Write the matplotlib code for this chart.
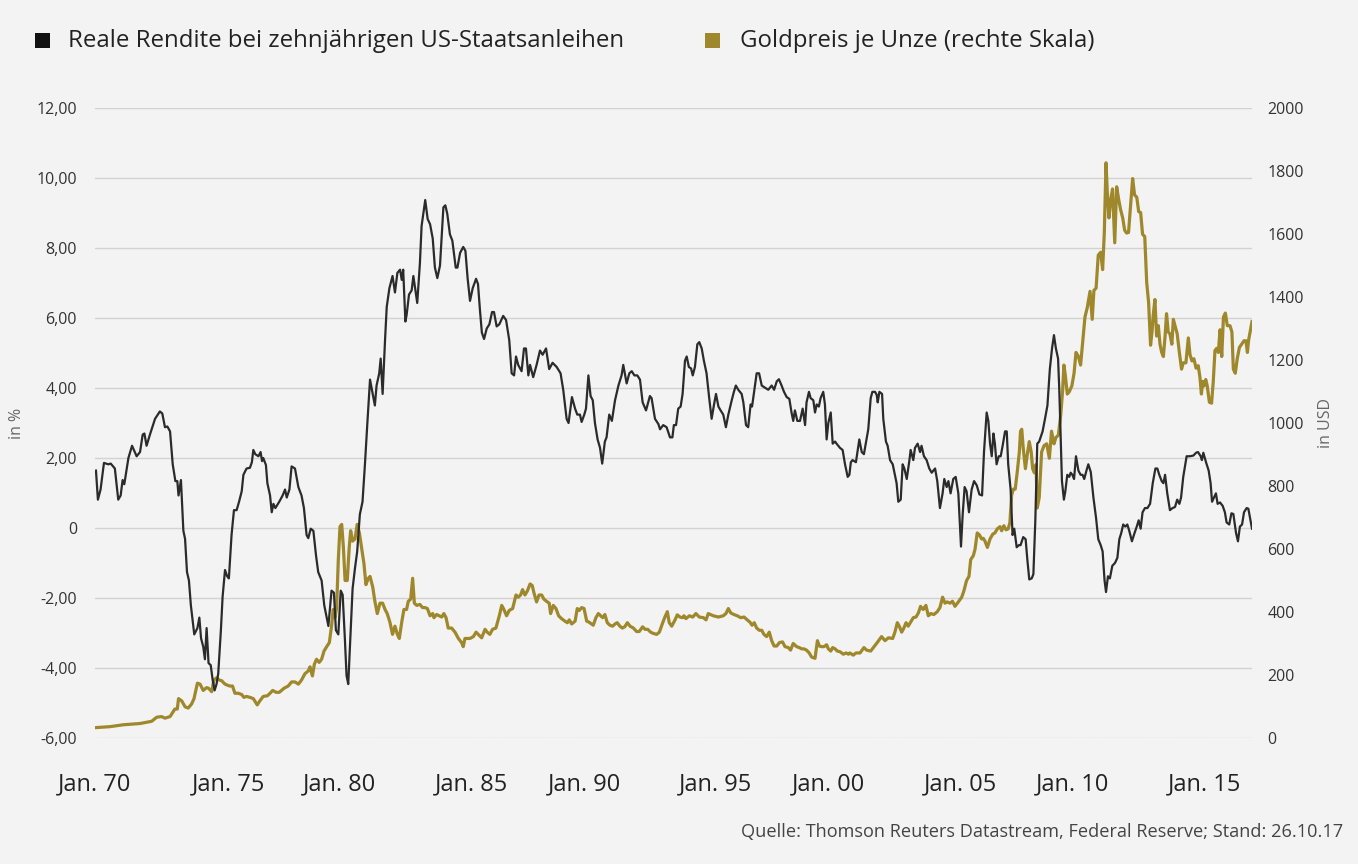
import matplotlib
matplotlib.use("Agg")
import matplotlib.pyplot as plt
from matplotlib.patches import Rectangle

# ---------------- data ----------------
legend_labels = ["Reale Rendite bei zehnjährigen US-Staatsanleihen",
                 "Goldpreis je Unze (rechte Skala)"]
source_text = "Quelle: Thomson Reuters Datastream, Federal Reserve; Stand: 26.10.17"

x_tick_labels = ["Jan. 70", "Jan. 75", "Jan. 80", "Jan. 85", "Jan. 90",
                 "Jan. 95", "Jan. 00", "Jan. 05", "Jan. 10", "Jan. 15"]
left_ticks = [-6, -4, -2, 0, 2, 4, 6, 8, 10, 12]
left_tick_labels = ["-6,00", "-4,00", "-2,00", "0", "2,00", "4,00", "6,00", "8,00", "10,00", "12,00"]
right_ticks = [0, 200, 400, 600, 800, 1000, 1200, 1400, 1600, 1800, 2000]
right_tick_labels = [str(v) for v in right_ticks]

# real yield of 10y US treasuries (%), (decimal year, value)
real_yield = [
    (1970.00, 1.64), (1970.08, 0.81), (1970.19, 1.10), (1970.33, 1.86), (1970.51, 1.82),
    (1970.61, 1.84), (1970.78, 1.70), (1970.92, 0.81), (1971.02, 0.93), (1971.10, 1.37),
    (1971.17, 1.25), (1971.34, 2.00), (1971.49, 2.35), (1971.68, 2.05), (1971.82, 2.17),
    (1971.93, 2.67), (1972.00, 2.70), (1972.09, 2.35), (1972.23, 2.67), (1972.44, 3.12),
    (1972.64, 3.33), (1972.74, 3.27), (1972.85, 2.88), (1972.95, 2.90), (1973.06, 2.76),
    (1973.17, 1.82), (1973.28, 1.34), (1973.36, 1.34), (1973.41, 0.93), (1973.51, 1.37),
    (1973.61, -0.08), (1973.68, -0.31), (1973.76, -1.26), (1973.84, -1.50), (1973.92, -2.21),
    (1974.06, -3.04), (1974.19, -2.86), (1974.27, -2.56), (1974.34, -3.15), (1974.43, -3.39),
    (1974.50, -3.75), (1974.57, -2.86), (1974.65, -3.86), (1974.74, -3.92), (1974.82, -4.34),
    (1974.90, -4.64), (1974.98, -4.46), (1975.05, -4.16), (1975.16, -2.92), (1975.23, -1.97),
    (1975.33, -1.20), (1975.42, -1.38), (1975.49, -1.44), (1975.60, -0.20), (1975.70, 0.51),
    (1975.81, 0.51), (1975.91, 0.75), (1976.02, 1.05), (1976.09, 1.52), (1976.22, 1.70),
    (1976.36, 1.72), (1976.44, 1.88), (1976.50, 2.23), (1976.58, 2.11), (1976.71, 2.05),
    (1976.80, 2.17), (1976.86, 1.91), (1976.91, 2.00), (1977.02, 1.80), (1977.08, 1.28),
    (1977.19, 0.93), (1977.26, 0.45), (1977.33, 0.69), (1977.41, 0.57), (1977.57, 0.75),
    (1977.71, 0.93), (1977.81, 1.10), (1977.88, 0.87), (1977.99, 1.10), (1978.08, 1.76),
    (1978.22, 1.70), (1978.36, 1.17), (1978.49, 0.93), (1978.59, 0.57), (1978.70, -0.20),
    (1978.77, -0.29), (1978.87, -0.02), (1978.98, -0.08), (1979.09, -0.79), (1979.18, -1.26),
    (1979.32, -1.50), (1979.43, -2.21), (1979.60, -2.80), (1979.73, -1.79), (1979.83, -1.85),
    (1979.91, -2.92), (1980.01, -3.04), (1980.11, -1.79), (1980.19, -1.91), (1980.28, -3.15),
    (1980.35, -4.22), (1980.42, -4.46), (1980.52, -2.92), (1980.60, -1.73), (1980.70, -1.14),
    (1980.79, -0.67), (1980.90, 0.39), (1981.01, 0.75), (1981.11, 1.82), (1981.21, 3.00),
    (1981.32, 4.24), (1981.43, 3.83), (1981.52, 3.50), (1981.59, 4.07), (1981.70, 4.42),
    (1981.76, 4.84), (1981.84, 3.83), (1981.94, 5.37), (1982.01, 6.32), (1982.12, 6.85),
    (1982.25, 7.20), (1982.35, 6.73), (1982.45, 7.29), (1982.56, 7.38), (1982.63, 7.09),
    (1982.69, 7.38), (1982.78, 5.90), (1982.83, 6.08), (1982.93, 6.67), (1983.04, 6.79),
    (1983.11, 7.20), (1983.27, 6.43), (1983.38, 7.56), (1983.45, 8.63), (1983.52, 8.98),
    (1983.60, 9.37), (1983.70, 8.83), (1983.80, 8.68), (1983.91, 8.27), (1984.00, 7.44),
    (1984.10, 7.14), (1984.21, 7.50), (1984.35, 9.16), (1984.43, 9.22), (1984.51, 8.98),
    (1984.62, 8.39), (1984.72, 8.21), (1984.86, 7.44), (1984.93, 7.44), (1985.04, 7.86),
    (1985.17, 8.03), (1985.26, 7.92), (1985.35, 7.14), (1985.45, 6.49), (1985.56, 6.85),
    (1985.70, 7.12), (1985.78, 6.97), (1985.86, 6.23), (1985.94, 5.58), (1986.03, 5.40),
    (1986.14, 5.70), (1986.25, 5.82), (1986.36, 6.17), (1986.44, 6.17), (1986.55, 5.76),
    (1986.66, 5.82), (1986.82, 6.06), (1986.94, 5.94), (1987.07, 5.37), (1987.17, 4.42),
    (1987.27, 4.36), (1987.35, 4.90), (1987.44, 4.66), (1987.58, 4.48), (1987.68, 5.13),
    (1987.76, 5.13), (1987.86, 4.36), (1987.93, 4.66), (1988.06, 4.31), (1988.20, 4.66),
    (1988.34, 5.07), (1988.45, 4.95), (1988.59, 5.13), (1988.72, 4.54), (1988.86, 4.72),
    (1989.03, 4.60), (1989.19, 4.42), (1989.30, 3.95), (1989.44, 3.12), (1989.52, 3.00),
    (1989.66, 3.74), (1989.79, 3.41), (1989.88, 3.24), (1989.99, 3.24), (1990.06, 3.03),
    (1990.17, 3.24), (1990.24, 3.41), (1990.34, 4.36), (1990.43, 3.77), (1990.52, 3.65),
    (1990.61, 3.00), (1990.72, 2.53), (1990.82, 2.29), (1990.91, 1.84), (1991.02, 2.47),
    (1991.09, 2.59), (1991.20, 3.24), (1991.31, 3.06), (1991.44, 3.65), (1991.58, 4.07),
    (1991.71, 4.36), (1991.78, 4.66), (1991.92, 4.13), (1992.03, 4.42), (1992.13, 4.48),
    (1992.24, 4.36), (1992.36, 4.36), (1992.47, 4.24), (1992.58, 3.59), (1992.72, 3.36),
    (1992.88, 3.77), (1992.95, 3.71), (1993.09, 3.12), (1993.23, 2.97), (1993.30, 2.82),
    (1993.43, 2.94), (1993.57, 2.88), (1993.71, 2.59), (1993.81, 2.59), (1993.87, 2.94),
    (1993.96, 2.94), (1994.05, 3.41), (1994.15, 3.47), (1994.23, 3.83), (1994.33, 4.78),
    (1994.40, 4.90), (1994.49, 4.60), (1994.58, 4.56), (1994.65, 4.36), (1994.74, 4.60),
    (1994.84, 5.25), (1994.92, 5.31), (1995.02, 5.13), (1995.11, 4.78), (1995.22, 4.42),
    (1995.33, 3.71), (1995.43, 3.12), (1995.53, 3.53), (1995.61, 3.83), (1995.71, 3.47),
    (1995.80, 3.36), (1995.91, 3.24), (1996.02, 2.88), (1996.12, 3.24), (1996.26, 3.65),
    (1996.35, 3.89), (1996.43, 4.07), (1996.53, 3.95), (1996.67, 3.83), (1996.74, 3.59),
    (1996.85, 2.94), (1996.94, 2.88), (1997.04, 3.53), (1997.10, 3.47), (1997.22, 4.07),
    (1997.29, 4.42), (1997.39, 4.42), (1997.50, 4.07), (1997.63, 4.01), (1997.77, 3.95),
    (1997.91, 4.07), (1998.01, 3.95), (1998.12, 4.19), (1998.21, 4.25), (1998.32, 4.07),
    (1998.42, 3.89), (1998.53, 3.74), (1998.64, 3.69), (1998.73, 3.30), (1998.80, 3.06),
    (1998.87, 3.36), (1998.97, 3.06), (1999.08, 3.06), (1999.19, 3.41), (1999.29, 2.94),
    (1999.35, 3.59), (1999.45, 3.89), (1999.52, 3.71), (1999.63, 3.65), (1999.70, 3.30),
    (1999.77, 3.53), (1999.86, 3.47), (1999.93, 3.71), (2000.04, 3.89), (2000.11, 3.53),
    (2000.18, 2.53), (2000.25, 3.00), (2000.35, 3.30), (2000.43, 2.41), (2000.53, 2.47),
    (2000.59, 2.41), (2000.73, 2.29), (2000.84, 2.23), (2000.94, 1.82), (2001.05, 1.46),
    (2001.12, 1.52), (2001.18, 1.88), (2001.25, 1.94), (2001.39, 1.88), (2001.53, 2.53),
    (2001.63, 2.17), (2001.72, 2.11), (2001.90, 2.82), (2002.00, 3.71), (2002.07, 3.89),
    (2002.18, 3.89), (2002.25, 3.80), (2002.29, 3.59), (2002.36, 3.89), (2002.47, 3.83),
    (2002.52, 3.12), (2002.63, 2.47), (2002.70, 2.35), (2002.80, 1.94), (2002.91, 1.82),
    (2003.00, 1.52), (2003.07, 1.28), (2003.14, 0.75), (2003.24, 0.81), (2003.32, 1.82),
    (2003.39, 1.70), (2003.49, 1.40), (2003.60, 1.94), (2003.65, 2.23), (2003.76, 1.94),
    (2003.83, 2.29), (2003.94, 2.41), (2004.04, 2.17), (2004.10, 2.35), (2004.20, 2.05),
    (2004.31, 1.94), (2004.42, 1.70), (2004.52, 1.58), (2004.66, 1.70), (2004.75, 1.34),
    (2004.86, 0.57), (2004.97, 0.99), (2005.04, 1.40), (2005.14, 1.17), (2005.21, 1.34),
    (2005.30, 0.99), (2005.41, 1.40), (2005.51, 1.46), (2005.62, 0.99), (2005.73, -0.53),
    (2005.80, 0.39), (2005.88, 1.17), (2005.96, 1.05), (2006.06, 0.45), (2006.17, 1.10),
    (2006.27, 1.34), (2006.38, 1.22), (2006.49, 0.96), (2006.60, 0.93), (2006.68, 2.17),
    (2006.79, 3.30), (2006.86, 3.06), (2006.93, 2.41), (2007.00, 2.05), (2007.07, 2.70),
    (2007.13, 2.41), (2007.20, 1.82), (2007.29, 2.05), (2007.37, 2.05), (2007.45, 2.35),
    (2007.55, 2.76), (2007.62, 2.76), (2007.68, 1.82), (2007.78, 1.10), (2007.86, -0.20),
    (2007.93, -0.02), (2008.03, -0.55), (2008.12, -0.49), (2008.19, -0.49), (2008.30, -0.26),
    (2008.40, -0.32), (2008.47, -0.90), (2008.55, -1.47), (2008.65, -1.44), (2008.72, -1.32),
    (2008.80, 0.21), (2008.88, 2.41), (2008.96, 2.47), (2009.10, 2.76), (2009.20, 3.12),
    (2009.30, 3.50), (2009.40, 4.54), (2009.49, 5.13), (2009.57, 5.51), (2009.65, 5.13),
    (2009.74, 4.84), (2009.79, 3.95), (2009.85, 2.53), (2009.90, 1.34), (2009.98, 0.81),
    (2010.04, 1.05), (2010.12, 1.52), (2010.20, 1.46), (2010.26, 1.58), (2010.33, 1.52),
    (2010.40, 1.40), (2010.48, 2.05), (2010.58, 1.64), (2010.67, 1.52), (2010.75, 1.52),
    (2010.82, 1.40), (2010.92, 1.66), (2010.99, 1.82), (2011.09, 1.60), (2011.20, 0.87),
    (2011.31, 0.28), (2011.40, -0.32), (2011.50, -0.49), (2011.58, -0.67), (2011.66, -1.50),
    (2011.72, -1.83), (2011.80, -1.38), (2011.88, -1.44), (2011.98, -1.08), (2012.09, -1.00),
    (2012.19, -0.85), (2012.27, -0.32), (2012.35, -0.14), (2012.43, 0.10), (2012.52, 0.04),
    (2012.60, 0.10), (2012.68, -0.08), (2012.79, -0.38), (2012.90, -0.14), (2012.99, 0.04),
    (2013.07, 0.22), (2013.15, -0.02), (2013.23, 0.45), (2013.33, 0.57), (2013.43, 0.57),
    (2013.54, 0.69), (2013.65, 1.28), (2013.76, 1.70), (2013.84, 1.70), (2013.92, 1.52),
    (2014.02, 1.34), (2014.09, 1.28), (2014.16, 1.52), (2014.25, 0.99), (2014.36, 0.51),
    (2014.47, 0.57), (2014.57, 0.60), (2014.66, 0.81), (2014.75, 0.69), (2014.82, 0.87),
    (2014.91, 1.46), (2015.05, 2.05), (2015.19, 2.05), (2015.33, 2.07), (2015.44, 2.15),
    (2015.52, 2.17), (2015.63, 2.05), (2015.68, 1.94), (2015.74, 2.15), (2015.85, 1.88),
    (2015.96, 1.64), (2016.04, 1.28), (2016.10, 0.75), (2016.18, 0.87), (2016.26, 0.99),
    (2016.33, 0.69), (2016.43, 0.73), (2016.54, 0.63), (2016.63, 0.45), (2016.70, 0.16),
    (2016.81, 0.10), (2016.90, 0.42), (2016.98, 0.40), (2017.09, -0.14), (2017.17, -0.38),
    (2017.25, 0.04), (2017.34, 0.10), (2017.42, 0.45), (2017.53, 0.57), (2017.60, 0.55),
    (2017.67, 0.28), (2017.75, -0.02),
]

# gold price per ounce (USD), (decimal year, value)
gold_price = [
    (1970.00, 33), (1970.58, 36), (1971.13, 42), (1971.82, 46), (1972.30, 53),
    (1972.51, 66), (1972.71, 68), (1972.85, 63), (1973.06, 68), (1973.26, 92),
    (1973.36, 92), (1973.41, 125), (1973.54, 118), (1973.68, 99), (1973.81, 95),
    (1973.95, 108), (1974.05, 125), (1974.19, 174), (1974.30, 171), (1974.43, 151),
    (1974.57, 160), (1974.65, 158), (1974.78, 147), (1974.87, 184), (1974.98, 191),
    (1975.09, 184), (1975.19, 182), (1975.33, 171), (1975.42, 168), (1975.53, 165),
    (1975.64, 165), (1975.74, 142), (1975.88, 142), (1976.02, 138), (1976.11, 129),
    (1976.22, 132), (1976.36, 129), (1976.50, 125), (1976.66, 105), (1976.77, 118),
    (1976.91, 132), (1977.08, 134), (1977.19, 142), (1977.30, 151), (1977.44, 145),
    (1977.57, 145), (1977.77, 158), (1977.94, 165), (1978.08, 178), (1978.22, 178),
    (1978.36, 171), (1978.49, 184), (1978.63, 204), (1978.77, 213), (1978.84, 226),
    (1978.94, 197), (1979.02, 234), (1979.11, 250), (1979.22, 240), (1979.32, 250),
    (1979.42, 276), (1979.53, 290), (1979.64, 303), (1979.73, 355), (1979.80, 408),
    (1979.87, 382), (1979.94, 413), (1980.01, 566), (1980.08, 671), (1980.15, 678),
    (1980.22, 605), (1980.29, 500), (1980.38, 500), (1980.46, 605), (1980.52, 658),
    (1980.60, 625), (1980.70, 632), (1980.79, 678), (1980.88, 651), (1980.97, 605),
    (1981.07, 553), (1981.15, 487), (1981.25, 507), (1981.32, 513), (1981.43, 480),
    (1981.52, 434), (1981.62, 395), (1981.73, 428), (1981.84, 428), (1981.94, 408),
    (1982.03, 395), (1982.14, 368), (1982.25, 329), (1982.35, 355), (1982.45, 329),
    (1982.53, 316), (1982.63, 368), (1982.72, 408), (1982.83, 408), (1982.90, 434),
    (1983.00, 441), (1983.08, 507), (1983.15, 428), (1983.25, 421), (1983.38, 424),
    (1983.49, 414), (1983.59, 414), (1983.69, 411), (1983.80, 388), (1983.91, 395),
    (1983.96, 382), (1984.07, 392), (1984.18, 388), (1984.28, 384), (1984.37, 395),
    (1984.46, 382), (1984.55, 349), (1984.69, 349), (1984.83, 336), (1984.97, 316),
    (1985.10, 303), (1985.17, 290), (1985.24, 316), (1985.34, 316), (1985.45, 316),
    (1985.59, 322), (1985.70, 336), (1985.79, 329), (1985.93, 318), (1986.07, 345),
    (1986.16, 336), (1986.27, 329), (1986.38, 345), (1986.52, 349), (1986.66, 388),
    (1986.76, 421), (1986.85, 408), (1986.96, 388), (1987.07, 405), (1987.21, 411),
    (1987.35, 454), (1987.44, 447), (1987.54, 454), (1987.62, 471), (1987.72, 454),
    (1987.82, 467), (1987.93, 489), (1988.02, 484), (1988.09, 461), (1988.20, 432),
    (1988.30, 454), (1988.41, 454), (1988.50, 441), (1988.61, 434), (1988.72, 428),
    (1988.78, 395), (1988.89, 421), (1989.00, 411), (1989.11, 388), (1989.23, 379),
    (1989.37, 371), (1989.47, 366), (1989.55, 375), (1989.65, 362), (1989.79, 371),
    (1989.88, 411), (1989.96, 405), (1990.06, 414), (1990.16, 411), (1990.27, 371),
    (1990.36, 368), (1990.47, 362), (1990.54, 358), (1990.65, 382), (1990.75, 395),
    (1990.85, 388), (1990.93, 382), (1991.02, 392), (1991.12, 366), (1991.23, 358),
    (1991.34, 355), (1991.44, 362), (1991.53, 366), (1991.64, 355), (1991.74, 349),
    (1991.84, 353), (1991.95, 366), (1992.06, 355), (1992.20, 349), (1992.33, 338),
    (1992.44, 338), (1992.58, 353), (1992.68, 345), (1992.79, 345), (1992.91, 336),
    (1993.02, 332), (1993.16, 329), (1993.27, 336), (1993.41, 366), (1993.50, 384),
    (1993.60, 401), (1993.68, 366), (1993.78, 355), (1993.92, 375), (1994.01, 391),
    (1994.12, 384), (1994.23, 382), (1994.29, 388), (1994.37, 379), (1994.51, 388),
    (1994.65, 384), (1994.78, 395), (1994.92, 384), (1995.09, 382), (1995.20, 375),
    (1995.29, 395), (1995.50, 388), (1995.71, 384), (1995.91, 388), (1996.02, 395),
    (1996.12, 411), (1996.22, 397), (1996.35, 392), (1996.49, 388), (1996.63, 382),
    (1996.77, 384), (1996.90, 375), (1997.01, 368), (1997.10, 358), (1997.19, 366),
    (1997.29, 349), (1997.40, 342), (1997.50, 342), (1997.59, 329), (1997.70, 322),
    (1997.81, 336), (1997.91, 309), (1998.01, 292), (1998.12, 292), (1998.23, 303),
    (1998.36, 305), (1998.46, 290), (1998.60, 287), (1998.69, 279), (1998.80, 300),
    (1998.94, 290), (1999.05, 287), (1999.15, 283), (1999.24, 283), (1999.35, 279),
    (1999.46, 270), (1999.56, 257), (1999.70, 253), (1999.80, 309), (1999.88, 292),
    (1999.97, 290), (2000.07, 290), (2000.18, 296), (2000.25, 283), (2000.35, 276),
    (2000.43, 287), (2000.53, 283), (2000.62, 276), (2000.73, 274), (2000.87, 266),
    (2000.98, 270), (2001.08, 266), (2001.14, 270), (2001.28, 263), (2001.39, 270),
    (2001.56, 270), (2001.72, 287), (2001.83, 279), (2002.00, 276), (2002.14, 290),
    (2002.27, 303), (2002.45, 322), (2002.59, 309), (2002.73, 318), (2002.91, 316),
    (2003.00, 336), (2003.10, 366), (2003.18, 355), (2003.28, 336), (2003.37, 349),
    (2003.46, 366), (2003.55, 355), (2003.65, 368), (2003.76, 382), (2003.87, 384),
    (2003.97, 397), (2004.06, 418), (2004.17, 408), (2004.28, 421), (2004.38, 388),
    (2004.48, 395), (2004.61, 392), (2004.75, 401), (2004.86, 414), (2004.97, 447),
    (2005.07, 428), (2005.16, 432), (2005.28, 428), (2005.38, 434), (2005.48, 418),
    (2005.62, 432), (2005.76, 447), (2005.85, 467), (2005.96, 500), (2006.06, 513),
    (2006.13, 566), (2006.24, 579), (2006.31, 599), (2006.40, 651), (2006.49, 645),
    (2006.58, 632), (2006.65, 634), (2006.72, 625), (2006.82, 605), (2006.93, 632),
    (2007.04, 647), (2007.13, 651), (2007.23, 664), (2007.34, 671), (2007.41, 658),
    (2007.50, 674), (2007.59, 661), (2007.68, 664), (2007.75, 684), (2007.82, 770),
    (2007.89, 790), (2007.97, 790), (2008.06, 849), (2008.14, 908), (2008.19, 974),
    (2008.24, 980), (2008.30, 921), (2008.39, 855), (2008.47, 901), (2008.55, 941),
    (2008.63, 908), (2008.69, 855), (2008.76, 842), (2008.83, 868), (2008.88, 730),
    (2008.96, 763), (2009.06, 908), (2009.16, 928), (2009.27, 934), (2009.38, 888),
    (2009.47, 974), (2009.57, 934), (2009.65, 954), (2009.75, 961), (2009.85, 1026),
    (2009.93, 1105), (2009.98, 1184), (2010.04, 1151), (2010.12, 1092), (2010.20, 1099),
    (2010.31, 1118), (2010.40, 1158), (2010.48, 1224), (2010.58, 1211), (2010.67, 1184),
    (2010.75, 1250), (2010.85, 1336), (2010.95, 1368), (2011.06, 1418), (2011.15, 1329),
    (2011.22, 1421), (2011.31, 1428), (2011.40, 1533), (2011.50, 1542), (2011.58, 1487),
    (2011.65, 1605), (2011.72, 1826), (2011.77, 1737), (2011.84, 1651), (2011.92, 1711),
    (2011.99, 1743), (2012.08, 1572), (2012.16, 1750), (2012.24, 1711), (2012.32, 1678),
    (2012.41, 1651), (2012.49, 1612), (2012.57, 1603), (2012.65, 1605), (2012.74, 1697),
    (2012.82, 1776), (2012.90, 1724), (2012.99, 1717), (2013.07, 1671), (2013.15, 1668),
    (2013.23, 1599), (2013.32, 1592), (2013.40, 1447), (2013.48, 1382), (2013.56, 1247),
    (2013.62, 1289), (2013.67, 1342), (2013.74, 1392), (2013.81, 1276), (2013.88, 1309),
    (2013.95, 1250), (2014.02, 1224), (2014.09, 1211), (2014.16, 1276), (2014.22, 1347),
    (2014.29, 1289), (2014.36, 1283), (2014.44, 1250), (2014.50, 1329), (2014.57, 1309),
    (2014.66, 1283), (2014.75, 1224), (2014.84, 1171), (2014.91, 1191), (2015.02, 1191),
    (2015.12, 1270), (2015.19, 1217), (2015.27, 1197), (2015.35, 1204), (2015.44, 1174),
    (2015.53, 1182), (2015.60, 1145), (2015.66, 1092), (2015.71, 1132), (2015.77, 1118),
    (2015.84, 1138), (2015.90, 1118), (2015.99, 1066), (2016.08, 1063), (2016.15, 1132),
    (2016.22, 1230), (2016.29, 1237), (2016.36, 1224), (2016.43, 1296), (2016.50, 1211),
    (2016.57, 1336), (2016.65, 1349), (2016.73, 1309), (2016.84, 1309), (2016.92, 1289),
    (2016.98, 1171), (2017.06, 1158), (2017.14, 1204), (2017.23, 1240), (2017.32, 1250),
    (2017.42, 1261), (2017.50, 1261), (2017.56, 1224), (2017.61, 1263), (2017.69, 1296),
    (2017.75, 1322),
]

# ---------------- layout / style ----------------
x_tick_pos = [1969.96, 1975.49, 1980.04, 1985.53, 1990.16,
              1995.61, 2000.24, 2005.69, 2010.32, 2015.81]

BG = "#f3f3f3"
BLACK = "#2b2b2b"
GOLD = "#9f872b"
GRID = "#d2d2d2"
TXT = "#333333"

plt.rcParams["font.family"] = ["Open Sans", "DejaVu Sans"]

W, H = 1358, 864
fig = plt.figure(figsize=(W / 100, H / 100), dpi=100, facecolor=BG)
ax = fig.add_axes([95 / W, 1 - 738 / H, (1252 - 95) / W, (738 - 108) / H])
ax2 = ax.twinx()

ry_x = [p[0] for p in real_yield]
ry_y = [p[1] for p in real_yield]
g_x = [p[0] for p in gold_price]
g_y = [p[1] for p in gold_price]

ax2.plot(g_x, g_y, color=GOLD, lw=2.3, solid_joinstyle="round", zorder=3)
ax.plot(ry_x, ry_y, color=BLACK, lw=1.6, solid_joinstyle="round", zorder=3)

ax.set_zorder(ax2.get_zorder() + 1)
ax.patch.set_visible(False)
ax2.patch.set_visible(True)
ax2.patch.set_facecolor(BG)

ax.set_xlim(1969.96, 2017.75)
ax.set_ylim(-6, 12)
ax2.set_ylim(0, 2000)

# grid lines drawn on the lower axis so they sit beneath both lines
for v in left_ticks:
    if v == -6:
        ax2.axhline(0, color="#c4c4c4", lw=1.0, ls=(0, (1, 1)), zorder=1)
    else:
        ax2.axhline((v + 6) * 2000 / 18, color=GRID, lw=1.0, zorder=1)

ax.set_yticks(left_ticks)
ax.set_yticklabels(left_tick_labels)
ax2.set_yticks(right_ticks)
ax2.set_yticklabels(right_tick_labels)
ax.set_xticks(x_tick_pos)
ax.set_xticklabels(x_tick_labels)

ax.tick_params(axis="y", length=0, pad=13, labelsize=11.5, labelcolor=TXT)
ax2.tick_params(axis="y", length=0, pad=11, labelsize=11.5, labelcolor=TXT)
ax.tick_params(axis="x", length=0, pad=25, labelsize=17, labelcolor="#222222")

for a in (ax, ax2):
    for s in a.spines.values():
        s.set_visible(False)

ax.set_ylabel("in %", fontsize=11.5, color="#666666", labelpad=8)
ax2.set_ylabel("in USD", fontsize=11.5, color="#666666", labelpad=10)

# legend (drawn manually to match reference placement)
legend_colors = ["#111111", GOLD]
legend_square_x = [35, 705]
legend_text_x = [68, 740]
for lbl, col, sx, tx in zip(legend_labels, legend_colors, legend_square_x, legend_text_x):
    fig.patches.append(Rectangle((sx / W, 1 - 48 / H), 15 / W, 15 / H,
                                 transform=fig.transFigure, facecolor=col, edgecolor="none"))
    fig.text(tx / W, 1 - 41 / H, lbl, ha="left", va="center", fontsize=17.3, color="#222222")

fig.text(1343 / W, 1 - 832 / H, source_text, ha="right", va="center",
         fontsize=13.1, color="#444444")

fig.savefig("out.png", dpi=100, facecolor=BG)
